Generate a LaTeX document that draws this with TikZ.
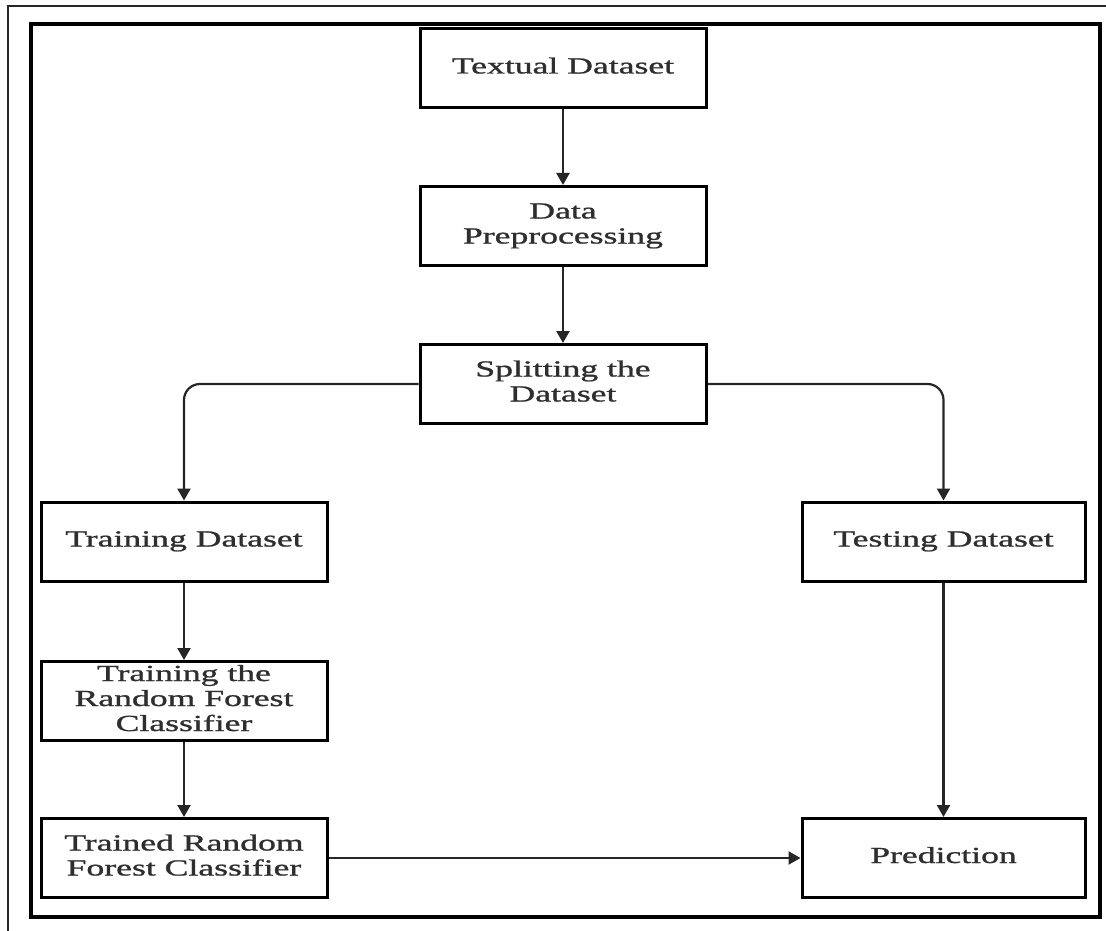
\documentclass[tikz,border=0pt]{standalone}
\usepackage{fontspec}
\setmainfont{Liberation Serif}
\newfontfamily\boxfont{Liberation Serif}[BoldFont=Liberation Serif, BoldFeatures={FakeBold=0.9}]
\usetikzlibrary{arrows.meta}
\newcommand{\widetext}[1]{\scalebox{1.55}[1]{\begin{tabular}{@{}c@{}}#1\end{tabular}}}
\tikzset{
  box/.style={draw=black, line width=3pt, fill=white, minimum width=286pt, minimum height=79pt, inner sep=0pt,
    font=\boxfont\fontsize{23}{25}\selectfont\bfseries, text=black!82},
  conn/.style={draw=black!85, line width=2.2pt, -{Triangle[length=12pt,width=13pt]}},
  frame/.style={draw=black, line width=3.2pt}
}
\begin{document}
\begin{tikzpicture}[x=1pt,y=-1pt]
\useasboundingbox (0,0) rectangle (1106,931);
\fill[white] (0,0) rectangle (1106,931);
% outer frame (left and top only visible)
\draw[line width=2.2pt, black!85] (8,931) -- (8,6) -- (1106,6);
% inner frame
\draw[frame] (31,24) rectangle (1100,917);

\node[box] (td)   at (563,68.5) {\widetext{Textual Dataset}};
\node[box] (dp)   at (563,226) {\widetext{Data\\Preprocessing}};
\node[box] (sd)   at (563,384) {\widetext{Splitting the\\Dataset}};
\node[box] (trd)  at (184,541.5) {\widetext{Training Dataset}};
\node[box, minimum width=283pt] (ted)  at (943.5,541.5) {\widetext{Testing Dataset}};
\node[box] (trf)  at (184,701) {\widetext{Training the\\Random Forest\\Classifier}};
\node[box] (trc)  at (184,858) {\widetext{Trained Random\\Forest Classifier}};
\node[box, minimum width=283pt] (pred) at (943.5,858) {\widetext{Prediction}};

\draw[conn] (td) -- (dp);
\draw[conn] (dp) -- (sd);
\draw[conn, rounded corners=16pt] (sd.west) -| (trd.north);
\draw[conn, rounded corners=16pt] (sd.east) -| (ted.north);
\draw[conn] (trd) -- (trf);
\draw[conn] (trf) -- (trc);
\draw[conn] (ted) -- (pred);
\draw[conn] (trc) -- (pred);
\end{tikzpicture}
\end{document}
